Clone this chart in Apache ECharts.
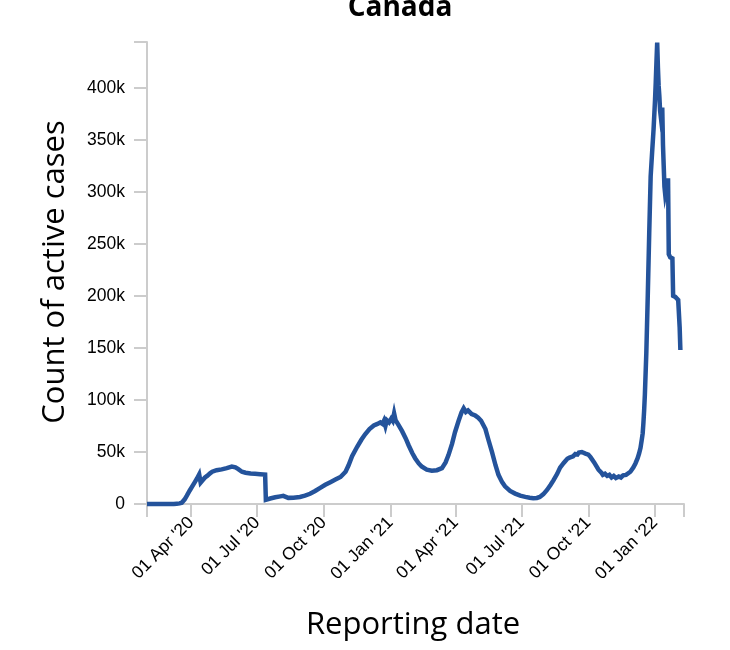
<!DOCTYPE html>
<html><head><meta charset="utf-8">
<script src="https://cdn.jsdelivr.net/npm/echarts@6/dist/echarts.min.js"></script>
<style>html,body{margin:0;padding:0;background:#fff}#c{width:730px;height:650px}</style>
</head><body><div id="c"></div>
<script>
// ---- data ----
const dates = [
 '2020-01-31','2020-02-15','2020-03-01','2020-03-08','2020-03-12','2020-03-16','2020-03-19','2020-03-23','2020-03-26','2020-03-30',
 '2020-04-02','2020-04-06','2020-04-09','2020-04-12','2020-04-13','2020-04-14','2020-04-17','2020-04-20','2020-04-23','2020-04-27',
 '2020-04-30','2020-05-06','2020-05-13','2020-05-20','2020-05-27','2020-06-01','2020-06-05','2020-06-10','2020-06-15','2020-06-22',
 '2020-06-28','2020-07-05','2020-07-12','2020-07-13','2020-07-19','2020-07-26','2020-08-02','2020-08-06','2020-08-08','2020-08-13',
 '2020-08-20','2020-08-29','2020-09-05','2020-09-12','2020-09-19','2020-09-26','2020-10-03','2020-10-10','2020-10-17','2020-10-24',
 '2020-10-31','2020-11-04','2020-11-09','2020-11-16','2020-11-22','2020-11-27','2020-12-03','2020-12-09','2020-12-14','2020-12-18',
 '2020-12-21','2020-12-23','2020-12-25','2020-12-27','2020-12-30','2021-01-02','2021-01-04','2021-01-06','2021-01-08','2021-01-12',
 '2021-01-17','2021-01-22','2021-01-26','2021-01-31','2021-02-04','2021-02-09','2021-02-13','2021-02-20','2021-02-27','2021-03-06',
 '2021-03-13','2021-03-18','2021-03-22','2021-03-27','2021-03-31','2021-04-05','2021-04-09','2021-04-12','2021-04-15','2021-04-18',
 '2021-04-23','2021-04-28','2021-05-02','2021-05-06','2021-05-12','2021-05-16','2021-05-21','2021-05-26','2021-05-30','2021-06-04',
 '2021-06-08','2021-06-15','2021-06-22','2021-06-29','2021-07-06','2021-07-12','2021-07-17','2021-07-22','2021-07-26','2021-07-31',
 '2021-08-05','2021-08-10','2021-08-14','2021-08-19','2021-08-23','2021-08-28','2021-09-02','2021-09-05','2021-09-07','2021-09-10',
 '2021-09-13','2021-09-16','2021-09-18','2021-09-22','2021-09-27','2021-10-01','2021-10-04','2021-10-09','2021-10-15','2021-10-19',
 '2021-10-21','2021-10-24','2021-10-27','2021-10-30','2021-11-02','2021-11-05','2021-11-08','2021-11-12','2021-11-15','2021-11-18',
 '2021-11-22','2021-11-28','2021-12-02','2021-12-05','2021-12-08','2021-12-10','2021-12-12','2021-12-14','2021-12-15','2021-12-16',
 '2021-12-17','2021-12-18','2021-12-20','2021-12-22','2021-12-24','2021-12-26','2021-12-28','2021-12-30','2022-01-01','2022-01-02',
 '2022-01-03','2022-01-04','2022-01-05','2022-01-06','2022-01-07','2022-01-08','2022-01-09','2022-01-10','2022-01-11','2022-01-12',
 '2022-01-13','2022-01-14','2022-01-15','2022-01-17','2022-01-19','2022-01-20','2022-01-22','2022-01-25','2022-01-26','2022-01-29',
 '2022-02-02','2022-02-04','2022-02-05'
];
const activeCases = [
 3,5,20,60,300,600,1200,4500,8000,13000,
 16500,21000,24500,28500,27000,20500,23000,25500,27000,29500,
 31000,32500,33300,34500,36000,35200,33500,31000,30000,29300,
 29000,28700,28300,4000,5300,6500,7300,7800,6200,5900,
 6100,6800,8000,9800,12500,15500,18500,21000,23500,26000,
 31000,37000,46000,55000,62000,67000,72000,75500,77000,78500,
 77000,80000,75000,80500,78500,82000,80000,87000,80500,76000,
 70000,63000,56500,49000,44000,39000,36000,33000,32000,32500,
 34500,40000,47000,58000,69000,80000,88000,92000,88500,90000,
 86500,85000,83000,80000,72000,62000,50000,37000,28000,21000,
 17000,12500,10000,8000,6800,6000,5500,5800,6800,9500,
 13500,18500,23000,29000,35000,39500,43500,44500,46000,45800,
 48000,47500,49500,50000,48500,47500,45000,40000,33000,30000,
 28000,29000,27000,28000,25500,27000,25000,26500,25500,27500,
 28000,31000,35000,39000,44000,48500,54000,63000,68000,78000,
 90000,105000,145000,200000,260000,315000,338000,360000,388000,405000,
 425000,443500,420000,402000,392000,378000,372000,376000,381000,345000,
 325000,305000,298000,305000,313000,240000,237000,236000,200000,199000,
 196000,170000,148000
];
const xTickDates = ['2020-04-01','2020-07-01','2020-10-01','2021-01-01','2021-04-01','2021-07-01','2021-10-01','2022-01-01'];
const yTickValues = [0,50000,100000,150000,200000,250000,300000,350000,400000];
const xDomain = ['2020-01-31','2022-02-10'];
const yDomainMax = 444000;
const monthNames = ['Jan','Feb','Mar','Apr','May','Jun','Jul','Aug','Sep','Oct','Nov','Dec'];

function ts(s){ const p = s.split('-').map(Number); return new Date(p[0], p[1]-1, p[2]).getTime(); }

const axisGray = '#cccccc';
const chart = echarts.init(document.getElementById('c'), null, {renderer:'canvas'});
chart.setOption({
  animation: false,
  grid: {left:147, right:46, top:42, bottom:146, containLabel:false},
  xAxis: {
    type:'value', min: ts(xDomain[0]), max: ts(xDomain[1]),
    axisLine:{show:true, lineStyle:{color:axisGray, width:2}},
    axisTick:{show:true, length:13, lineStyle:{color:axisGray, width:2},
      customValues:[ts(xDomain[0])].concat(xTickDates.map(ts)).concat([ts(xDomain[1])])},
    axisLabel:{show:true, rotate:45, margin:16, color:'#000', fontSize:17.5, fontFamily:'Liberation Sans',
      customValues: xTickDates.map(ts),
      formatter: v => { const d = new Date(v); return String(d.getDate()).padStart(2,'0') + ' ' + monthNames[d.getMonth()] + " '" + String(d.getFullYear()).slice(2); }},
    splitLine:{show:false}
  },
  yAxis: {
    type:'value', min:0, max:yDomainMax,
    axisLine:{show:true, lineStyle:{color:axisGray, width:2}},
    axisTick:{show:true, length:13, lineStyle:{color:axisGray, width:2}, customValues: yTickValues.concat([yDomainMax])},
    axisLabel:{show:true, margin:22, color:'#000', fontSize:17.5, fontFamily:'Liberation Sans',
      customValues: yTickValues,
      formatter: v => v === 0 ? '0' : (v/1000) + 'k'},
    splitLine:{show:false}
  },
  graphic: [
    {type:'text', x:400, y:8, style:{text:'Canada', fill:'#000', font:'bold 28px "Open Sans"', textAlign:'center', textVerticalAlign:'middle'}},
    {type:'text', x:55, y:272, rotation:Math.PI/2, style:{text:'Count of active cases', fill:'#000', font:'31px "Open Sans"', textAlign:'center', textVerticalAlign:'middle'}},
    {type:'text', x:413, y:625, style:{text:'Reporting date', fill:'#000', font:'31px "Open Sans"', textAlign:'center', textVerticalAlign:'middle'}}
  ],
  series: [{
    type:'line', showSymbol:false, symbol:'none', clip:false,
    lineStyle:{color:'#24539b', width:4.5, join:'miter'},
    data: dates.map((d,i) => [ts(d), activeCases[i]])
  }]
});
</script></body></html>
